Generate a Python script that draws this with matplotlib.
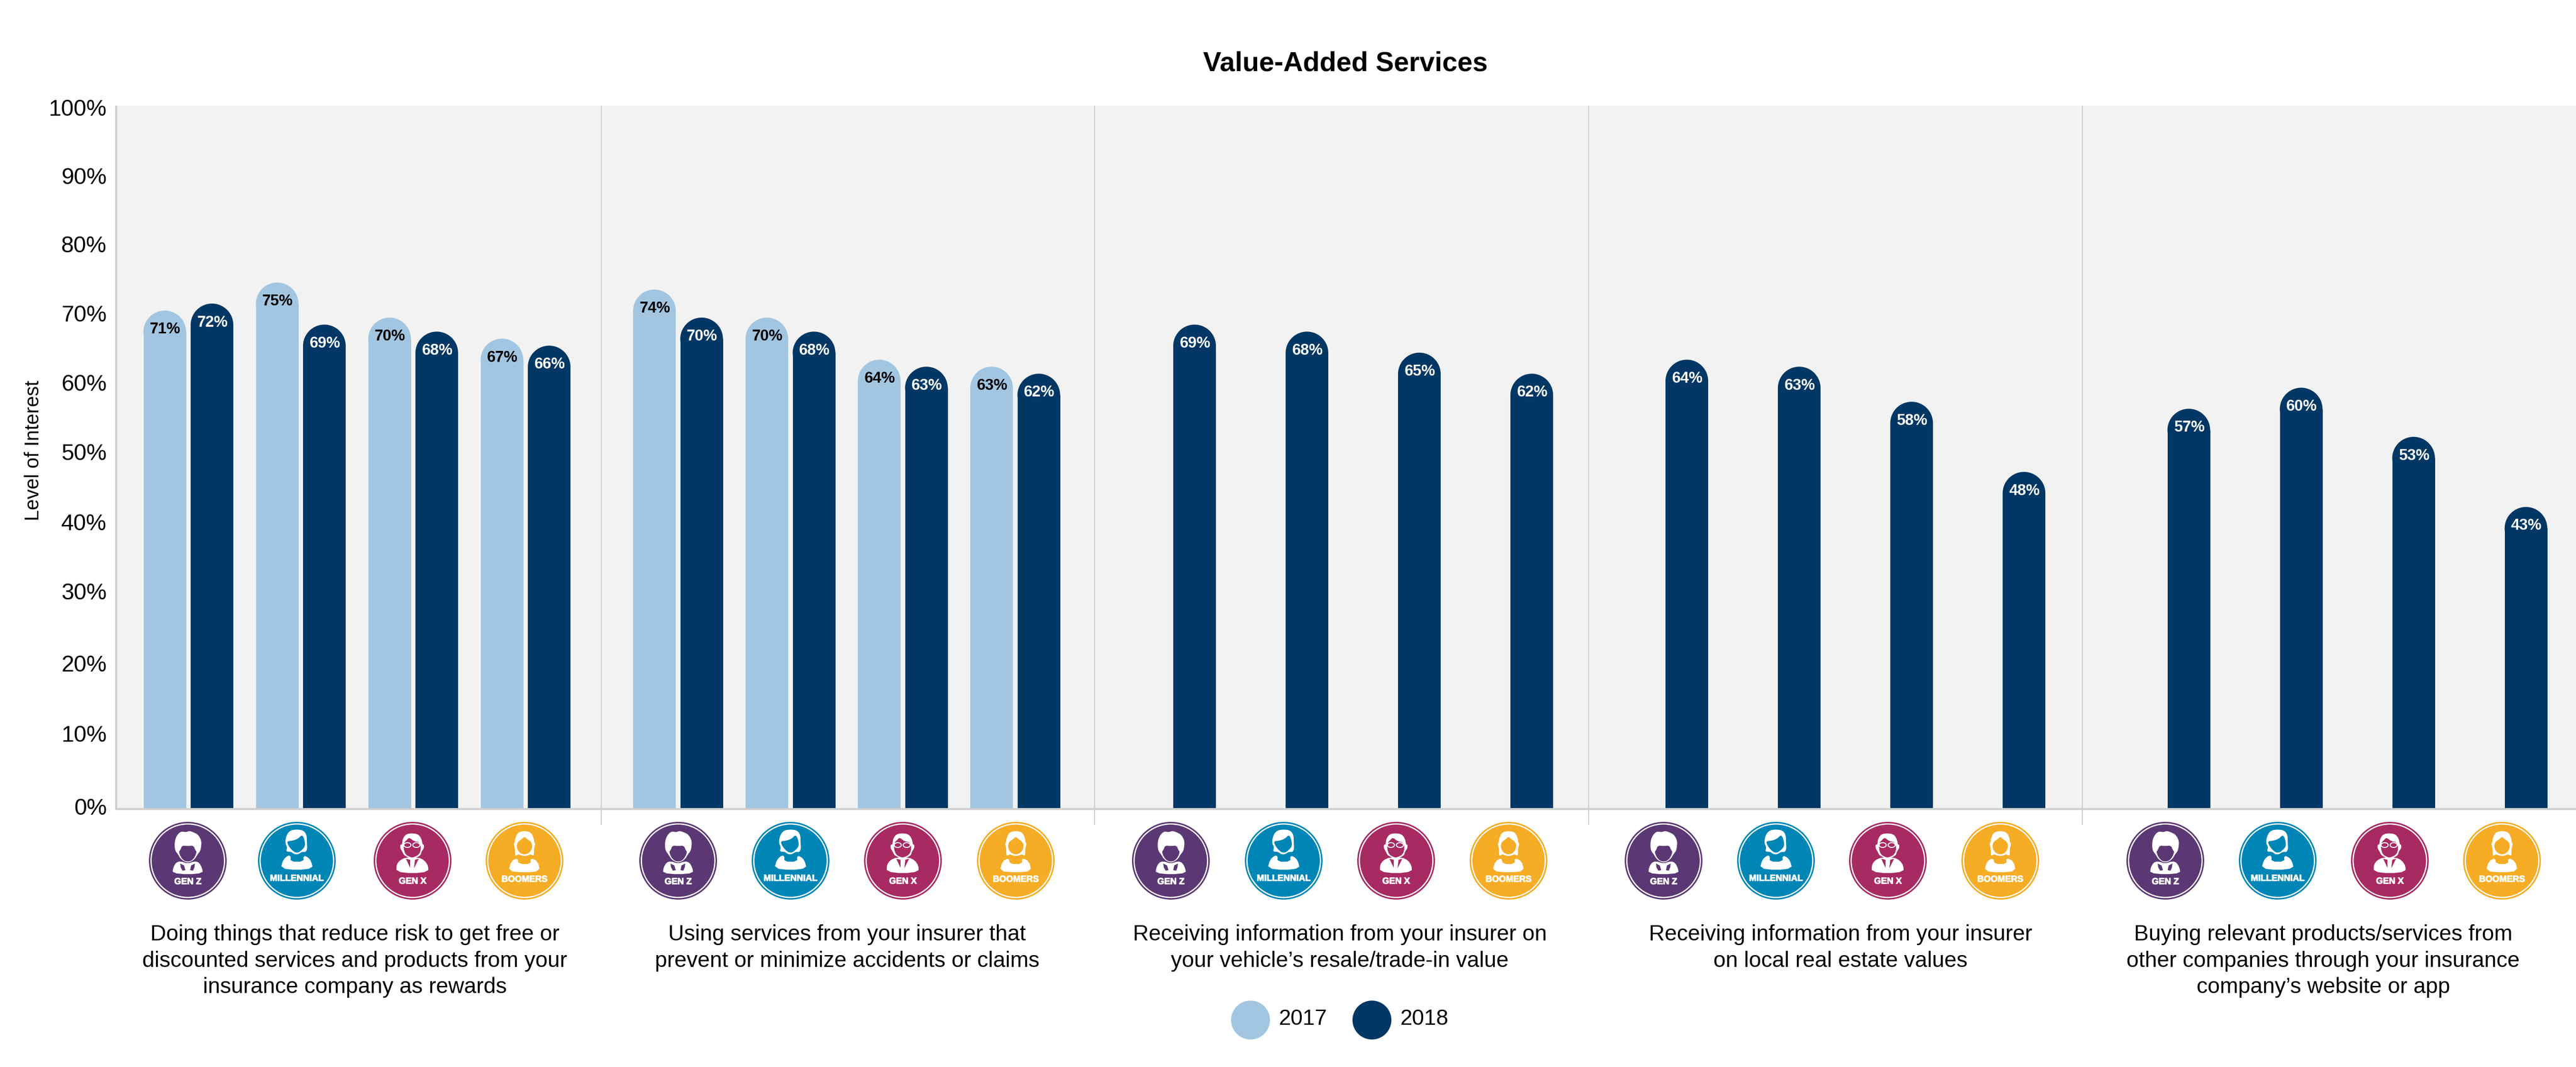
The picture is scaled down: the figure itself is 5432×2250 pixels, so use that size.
import matplotlib
matplotlib.use("Agg")
import matplotlib.pyplot as plt
import matplotlib.patheffects as pe
from matplotlib.patches import Ellipse, Circle, Polygon

# data
groups = ["Doing things that reduce risk to get free or\ndiscounted services and products from your\ninsurance company as rewards",
          "Using services from your insurer that\nprevent or minimize accidents or claims",
          "Receiving information from your insurer on\nyour vehicle\u2019s resale/trade-in value",
          "Receiving information from your insurer\non local real estate values",
          "Buying relevant products/services from\nother companies through your insurance\ncompany\u2019s website or app"]
gens = ["GEN Z", "MILLENNIAL", "GEN X", "BOOMERS"]
gen_colors = ["#5b3874", "#0086b6", "#a82a62", "#f6ac25"]
vals_2017 = [[71, 75, 70, 67], [74, 70, 64, 63]]
vals_2018 = [[72, 69, 68, 66], [70, 68, 63, 62], [69, 68, 65, 62], [64, 63, 58, 48], [57, 60, 53, 43]]
yticks = list(range(0, 101, 10))
years = ["2017", "2018"]
year_colors = ["#a2c6e1", "#003764"]

# layout, in pixels of the 5432x2250 picture
W, H = 5432, 2250
x0, y0, y100, y_top = 246, 1705, 226, 223
bar_w = 90
first_bar = [402, 1434.5, 2474, 3512, 4570.5]  # left edge of first 2018 bar of each group
bar_step = 237
pair_off = 99.5
separators = [1268, 2308, 3350, 4391]
icon_x = [[396, 626, 870, 1106], [1430, 1667, 1904, 2142], [2469, 2707, 2944, 3181],
          [3508, 3745, 3981, 4218], [4566, 4803, 5039.5, 5276]]
icon_y = 1815
text_x = [748, 1786, 2825, 3881, 4899]
# the tick labels are not evenly spaced in the original
tick_px = [1700, 1547, 1399, 1246, 1101, 952, 806, 661, 515, 370, 226]

# icon outlines, pixels relative to the circle centre: white parts, then cut-outs
hair = {
    "GEN Z": [(-14, -62), (-4, -60), (3, -63), (12, -60), (22, -55), (29, -42), (28, -28), (26, -20), (21, -14),
              (14, -2), (0, 5), (-14, -2), (-21, -14), (-26, -20), (-28, -30), (-27, -44), (-22, -55)],
    "MILLENNIAL": [(-14, -64), (0, -66), (14, -64), (21, -54), (21, -38), (22, -26), (19, -18), (11, -19), (2, -13),
                   (-6, -14), (-12, -19), (-23, -19), (-20, -28), (-25, -38), (-22, -54)],
    "GEN X": [(-14, -56), (-2, -58), (12, -56), (19, -46), (21, -34), (24, -34), (24, -26), (19, -20), (17, -11),
              (4, -5), (-4, -5), (-18, -11), (-22, -20), (-26, -26), (-26, -34), (-22, -34), (-21, -46)],
    "BOOMERS": [(-14, -60), (0, -63), (14, -60), (20, -46), (20, -40), (23, -35), (20, -27), (20, -9), (13, -14),
                (7, -11), (0, -10), (-7, -11), (-13, -14), (-20, -9), (-20, -27), (-23, -35), (-20, -40), (-20, -46)],
}
face = {
    "GEN Z": [(-12, -32), (0, -31), (12, -32), (16, -22), (19, -19), (15, -8), (8, 0), (0, 2), (-8, 0), (-15, -8),
              (-19, -19), (-16, -22)],
    "MILLENNIAL": [(-21, -41), (-10, -42), (2, -46), (10, -54), (14, -50), (17, -40), (17, -30), (12, -24), (5, -18),
                   (0, -17), (-5, -18), (-12, -24), (-18, -32)],
    "GEN X": [(-18, -38), (-12, -44), (-7, -49), (3, -41), (15, -39), (18, -26), (14, -13), (2, -7), (-4, -7),
              (-15, -13), (-19, -26)],
    "BOOMERS": [(0, -51), (-6, -45), (-14, -40), (-17, -30), (-13, -20), (-7, -15), (0, -13), (7, -15), (13, -20),
                (17, -30), (14, -40), (6, -45)],
}
body = {
    "GEN Z": [(-32, 26), (-31, 15), (-25, 4), (-16, 1), (0, 6), (15, 1), (24, 4), (30, 15), (32, 26), (0, 29)],
    "MILLENNIAL": [(-34, 16), (-29, -2), (-19, -11), (-13, -10), (-13, 2), (14, 2), (14, -11), (24, -7), (30, 1),
                   (34, 16), (0, 20)],
    "GEN X": [(-34, 23), (-34, 9), (-27, -1), (-14, -7), (12, -7), (25, -1), (33, 11), (33, 23), (0, 27)],
    "BOOMERS": [(-34, 22), (-28, 1), (-15, -6), (-12, 7), (13, 7), (13, -6), (28, 1), (33, 22), (0, 25)],
}
details = {
    "GEN Z": [[(-16, 6), (-8, 10), (-5, 20), (-11, 21), (-15, 14)], [(15, 6), (7, 10), (5, 20), (11, 21), (14, 14)]],
    "MILLENNIAL": [],
    "GEN X": [[(-14, -4), (-5, -2), (-5, 15)], [(13, -4), (5, -2), (3, 16)]],
    "BOOMERS": [],
}
label_y = {"GEN Z": 43, "MILLENNIAL": 36, "GEN X": 42, "BOOMERS": 38}


def smooth(pts, n=2):
    # corner cutting, keeps the icons from looking like plain polygons
    for _ in range(n):
        out = []
        for i, p in enumerate(pts):
            q = pts[(i + 1) % len(pts)]
            out.append((0.75 * p[0] + 0.25 * q[0], 0.75 * p[1] + 0.25 * q[1]))
            out.append((0.25 * p[0] + 0.75 * q[0], 0.25 * p[1] + 0.75 * q[1]))
        pts = out
    return pts


def shifted(pts, cx, cy):
    return [(cx + p[0], cy + p[1]) for p in pts]


plt.rcParams['font.family'] = ['Liberation Sans', 'DejaVu Sans']

fig = plt.figure(figsize=(W / 100, H / 100), dpi=100)

ax = fig.add_axes([x0 / W, 1 - y0 / H, (W - x0) / W, (y0 - y_top) / H])
ax.set_xlim(x0, W)
ax.set_ylim(0, (y0 - y_top) / (y0 - y100) * 100)
ax.set_facecolor("#f2f2f2")
for s in ax.spines.values():
    s.set_visible(False)
ax.set_yticks([(y0 - p) * 100 / (y0 - y100) for p in tick_px])
ax.set_yticklabels(["%d%%" % t for t in yticks], fontsize=34.5)
ax.tick_params(axis="y", length=0, pad=15)
ax.set_xticks([])

# a full-figure axes in pixels on top, for everything outside the bars
top = fig.add_axes([0, 0, 1, 1], zorder=5)
top.set_xlim(0, W)
top.set_ylim(H, 0)
top.axis("off")

cap_h = bar_w / 2 * 100 / (y0 - y100)


def draw_bar(xc, v, color, txt):
    ax.bar(xc, v - cap_h, bar_w, color=color, linewidth=0)
    ax.add_patch(Ellipse((xc, v - cap_h), bar_w, 2 * cap_h, facecolor=color, linewidth=0))
    ax.text(xc + 1, v - 2.7, "%d%%" % v, ha="center", va="center", fontsize=23.5, fontweight="bold", color=txt)


for g in range(len(groups)):
    for i in range(4):
        left = first_bar[g] + i * bar_step
        draw_bar(left + bar_w / 2, vals_2018[g][i], year_colors[1], "white")
        if g < len(vals_2017):
            draw_bar(left - pair_off + bar_w / 2, vals_2017[g][i], year_colors[0], "black")

# axis lines and group separators
top.plot([x0 - 1, x0 - 1], [y_top, y0 + 2], color="#cccccc", lw=3, solid_capstyle="butt")
top.plot([x0 - 3, W], [y0 + 1, y0 + 1], color="#cfcfcf", lw=3, solid_capstyle="butt", zorder=1)
for sx in separators:
    top.plot([sx, sx], [y_top, 1740], color="#cccccc", lw=1.5, solid_capstyle="butt")

top.text(2837, 134, "Value-Added Services", ha="center", va="center", fontsize=41.3, fontweight="bold")
top.text(71, 950, "Level of Interest", ha="center", va="center", rotation=90, fontsize=30)

# generation badges
for g in range(len(groups)):
    for i, gen in enumerate(gens):
        cx = icon_x[g][i]
        col = gen_colors[i]
        top.add_patch(Circle((cx, icon_y), 82, facecolor=col, linewidth=0))
        top.add_patch(Circle((cx, icon_y), 77.5, facecolor="none", edgecolor="white", linewidth=1.9))
        top.add_patch(Polygon(shifted(smooth(hair[gen]), cx, icon_y), facecolor="white", linewidth=0))
        top.add_patch(Polygon(shifted(smooth(face[gen], 1), cx, icon_y), facecolor=col, linewidth=0))
        top.add_patch(Polygon(shifted(smooth(body[gen], 1), cx, icon_y), facecolor="white", linewidth=0))
        for d in details[gen]:
            top.add_patch(Polygon(shifted(d, cx, icon_y), facecolor=col, linewidth=0))
        if gen == "GEN X":
            # glasses
            for gx in (-11, 8):
                top.add_patch(Ellipse((cx + gx, icon_y - 33), 15, 10, facecolor=col, edgecolor="white", linewidth=1.5))
        # no condensed face installed, so smaller bold with a thin stroke for the weight
        top.text(cx, icon_y + label_y[gen], gen, ha="center", va="center_baseline", color="white", fontsize=13.5,
                 fontweight="bold", path_effects=[pe.withStroke(linewidth=0.8, foreground="white")])

# group captions
for g, label in enumerate(groups):
    top.text(text_x[g], 1949, label, ha="center", va="top", fontsize=33.3, linespacing=1.34)

# legend
for lx, tx, year, col in zip([2637, 2893], [2697, 2953], years, year_colors):
    top.add_patch(Circle((lx, 2151), 41, facecolor=col, linewidth=0))
    top.text(tx, 2149, year, ha="left", va="center", fontsize=33)

fig.savefig("out.png", dpi=100)
